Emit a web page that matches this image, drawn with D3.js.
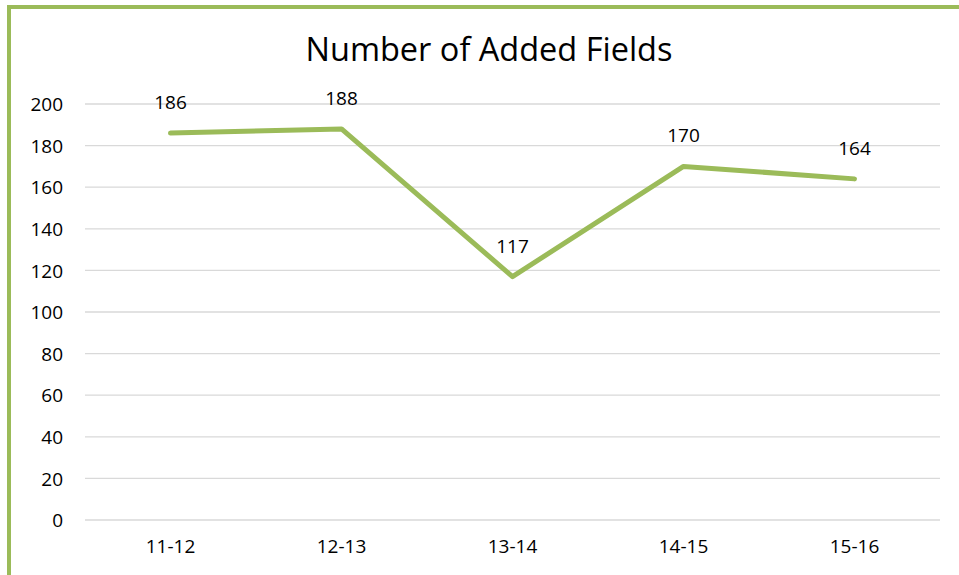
<!DOCTYPE html>
<html>
<head>
<meta charset="utf-8">
<script src="https://cdnjs.cloudflare.com/ajax/libs/d3/7.8.5/d3.min.js"></script>
<style>
  body { margin: 0; background: #fff; }
  text { font-family: "Open Sans", "Noto Sans", sans-serif; fill: #000; }
</style>
</head>
<body>
<svg></svg>
<script>
let years = ['11-12', '12-13', '13-14', '14-15', '15-16']
let added = [186, 188, 117, 170, 164]
let yTicks = [0, 20, 40, 60, 80, 100, 120, 140, 160, 180, 200]

let width = 959
let height = 575
let green = '#9bbb59'

let svg = d3.select('svg')
    .attr('width', width)
    .attr('height', height)

// frame (left and top edge visible)
svg.append('line')
    .attr('x1', 9).attr('x2', 9)
    .attr('y1', 5).attr('y2', height)
    .attr('stroke', green).attr('stroke-width', 4)
svg.append('line')
    .attr('x1', 7).attr('x2', width)
    .attr('y1', 7).attr('y2', 7)
    .attr('stroke', green).attr('stroke-width', 4)

let xscale = d3.scaleBand()
    .domain(years)
    .range([85, 940])

let yscale = d3.scaleLinear()
    .domain([0, 200])
    .range([520, 104])

// gridlines
svg.append('g')
    .selectAll('line')
    .data(yTicks)
    .enter()
    .append('line')
    .attr('x1', 85)
    .attr('x2', 940)
    .attr('y1', d => yscale(d))
    .attr('y2', d => yscale(d))
    .attr('stroke', '#d9d9d9')
    .attr('stroke-width', 1.3)

let yAxis = d3.axisLeft(yscale).tickValues(yTicks).tickSize(0).tickPadding(0)
svg.append('g')
    .attr('transform', 'translate(63,0)')
    .call(yAxis)
    .call(g => g.select('.domain').remove())
    .selectAll('text')
    .style('font-size', '19px')
    .attr('dy', '0.35em')

let xAxis = d3.axisBottom(xscale).tickSize(0).tickPadding(0)
svg.append('g')
    .attr('transform', 'translate(0,539)')
    .call(xAxis)
    .call(g => g.select('.domain').remove())
    .selectAll('text')
    .style('font-size', '19px')
    .attr('dy', '0.71em')

let line = d3.line()
    .x((d, i) => xscale(years[i]) + xscale.bandwidth() / 2)
    .y(d => yscale(d))

svg.append('path')
    .datum(added)
    .attr('d', line)
    .attr('fill', 'none')
    .attr('stroke', green)
    .attr('stroke-width', 5)
    .attr('stroke-linecap', 'round')
    .attr('stroke-linejoin', 'round')

svg.selectAll('.lbl')
    .data(added)
    .enter()
    .append('text')
    .attr('class', 'lbl')
    .attr('x', (d, i) => xscale(years[i]) + xscale.bandwidth() / 2)
    .attr('y', d => yscale(d) - 24)
    .attr('text-anchor', 'middle')
    .style('font-size', '19px')
    .text(d => d)

svg.append('text')
    .attr('x', 489)
    .attr('y', 61)
    .attr('text-anchor', 'middle')
    .style('font-size', '32.5px')
    .text('Number of Added Fields')
</script>
</body>
</html>
